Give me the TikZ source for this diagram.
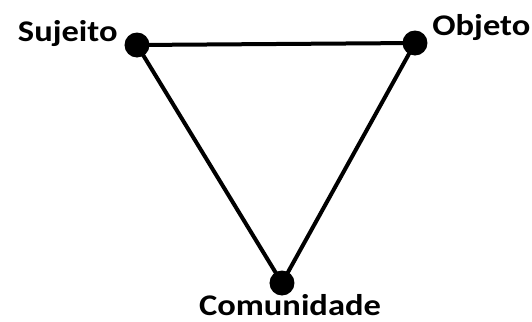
\documentclass[tikz,border=0pt]{standalone}
\usepackage{fontspec}
\setmainfont{Carlito}[FakeStretch=1.15]
\begin{document}
\begin{tikzpicture}[x=0.5pt,y=-0.5pt]
            \useasboundingbox (0,0) rectangle (532,322);
            \tikzset{dot/.style={circle, fill=black, inner sep=0pt, minimum size=12.5pt},
                     lbl/.style={font=\bfseries\fontsize{15}{17}\selectfont, inner sep=0pt}}

            \node[dot] (suj) at (137,45) {};
            \node[dot] (obj) at (415,43) {};
            \node[dot] (com) at (282,283) {};

            \draw[line width=2pt] (suj.center) -- (obj.center) -- (com.center) -- cycle;

            \node[lbl, anchor=base east] (lsuj) at (118,41) {Sujeito};
            \node[lbl, anchor=base west] (lobj) at (432,35) {Objeto};
            \node[lbl, anchor=base] (lcom) at (290,315) {Comunidade};
\end{tikzpicture}
\end{document}
